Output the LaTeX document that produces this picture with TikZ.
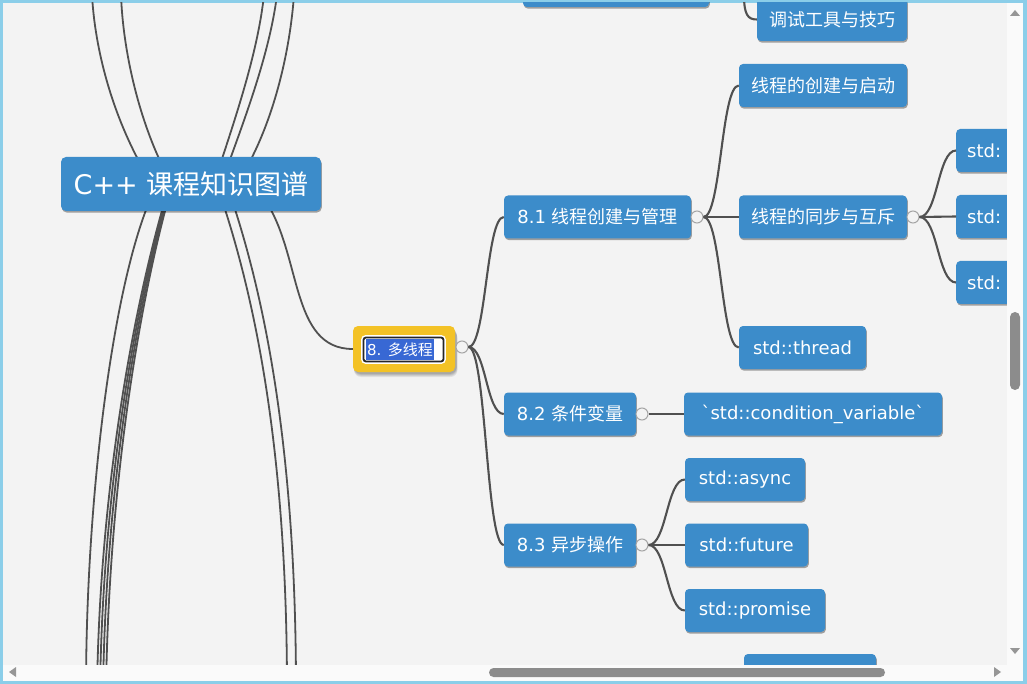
\documentclass[tikz,border=0pt]{standalone}
\usepackage{fontspec}
\setmainfont{DejaVu Sans}
\newfontfamily\cjk{Noto Sans CJK SC}
\usetikzlibrary{calc,shadows}
\definecolor{mmblue}{RGB}{60,140,202}
\definecolor{mmbg}{RGB}{243,243,243}
\definecolor{mmline}{RGB}{80,80,80}
\definecolor{mmyellow}{RGB}{243,194,38}
\definecolor{mmsel}{RGB}{56,104,212}
\definecolor{mmborder}{RGB}{139,206,233}
\definecolor{mmstrip}{RGB}{250,250,250}
\definecolor{mmthumb}{RGB}{140,140,140}
\definecolor{mmarrow}{RGB}{150,150,150}
\definecolor{mmcirc}{RGB}{165,165,165}
\newcommand\mmconn[2]{\draw[conn] let \p1=(#1),\p2=(#2) in (#1) .. controls ({0.5*\x1+0.5*\x2},\y1) and ({0.5*\x1+0.5*\x2},\y2) .. (#2);}
\begin{document}
\begin{tikzpicture}[x=1pt,y=-1pt,
  bnode/.style={fill=mmblue, rounded corners=4pt, text=white, font=\fontsize{18}{22}\selectfont, minimum height=43pt, inner sep=0pt, drop shadow={shadow xshift=0.8pt, shadow yshift=-1.6pt, opacity=0.35, fill=black}},
  snode/.style={bnode, text width=62pt, align=left, inner xsep=11pt, anchor=west},
  conn/.style={draw=mmline, line width=2.1pt},
  rootline/.style={draw=mmline, line width=1.8pt},
  circ/.style={circle, minimum size=12pt, inner sep=0pt, draw=mmcirc, line width=1pt, fill=mmbg},
  arrowtri/.style={fill=mmarrow}]
\useasboundingbox (0,0) rectangle (1027,684);
\fill[mmborder] (0,0) rectangle (1027,684);
\begin{scope}
\clip (3,3) rectangle (1007,665);
\fill[mmbg] (3,3) rectangle (1007,665);
% nodes
\node[bnode, minimum width=186pt] (ptop) at (616,-14.5) {};
\node[bnode, minimum width=150pt] (dbg) at (832,19.5) {{\cjk 调试工具与技巧}};
\node[bnode, minimum width=168pt] (qd) at (823,85.5) {{\cjk 线程的创建与启动}};
\node[bnode, minimum width=168pt] (tb) at (823,217) {{\cjk 线程的同步与互斥}};
\node[snode] (s1) at (956,150.5) {std:};
\node[snode] (s2) at (956,216.5) {std:};
\node[snode] (s3) at (956,282.5) {std:};
\node[bnode, minimum width=187pt] (n81) at (597.5,217) {8.1 {\cjk 线程创建与管理}};
\node[bnode, minimum width=127pt] (th) at (802.5,347.5) {std::thread};
\node[bnode, minimum width=132pt] (n82) at (570,414) {8.2 {\cjk 条件变量}};
\node[bnode, minimum width=258pt] (cv) at (813,414) {\textasciigrave std::condition\_variable\textasciigrave};
\node[bnode, minimum width=132pt] (n83) at (570,545) {8.3 {\cjk 异步操作}};
\node[bnode, minimum width=120pt] (as) at (745,479.5) {std::async};
\node[bnode, minimum width=123pt] (fu) at (746.5,545) {std::future};
\node[bnode, minimum width=140pt] (pr) at (755,610.5) {std::promise};
\node[bnode, minimum width=132pt] (pbot) at (810,675.5) {};
% selected node with soft shadow
\foreach \k/\o in {5/0.07,4/0.08,3/0.09,2/0.1}{
  \fill[black, opacity=\o, rounded corners=7pt] (354,{326+\k}) rectangle ({456+0.3*\k},{372+\k});
}
\node[fill=mmyellow, rounded corners=5pt, minimum width=102pt, minimum height=46pt, inner sep=0pt] (n8) at (404,349) {};
\node[draw=white, line width=2.6pt, rounded corners=3pt, minimum width=82pt, minimum height=26pt, inner sep=0pt] (ebo) at (403.5,349.5) {};
\node[draw=black!85, line width=1.8pt, fill=white, rounded corners=2.5pt, minimum width=80pt, minimum height=24pt, inner sep=0pt] (eb) at (403.5,349.5) {};
\node[fill=mmsel, text=white, font=\fontsize{15}{18}\selectfont, inner xsep=1pt, inner ysep=0pt, minimum height=21pt, anchor=west] (t8) at (366,349.5) {8. {\cjk 多线程}};
% collapse circles
\node[circ] (c8) at (462,347) {};
\node[circ] (c81) at (697,217) {};
\node[circ] (ctb) at (913,217) {};
\node[circ] (c82) at (642,414) {};
\node[circ] (c83) at (642,545) {};
% connectors
\mmconn{c8.east}{n81.west}
\mmconn{c8.east}{n82.west}
\mmconn{c8.east}{n83.west}
\mmconn{c81.east}{qd.west}
\mmconn{c81.east}{tb.west}
\mmconn{c81.east}{th.west}
\mmconn{ctb.east}{s1.west}
\mmconn{ctb.east}{s2.west}
\mmconn{ctb.east}{s3.west}
\mmconn{c82.east}{cv.west}
\mmconn{c83.east}{as.west}
\mmconn{c83.east}{fu.west}
\mmconn{c83.east}{pr.west}
\coordinate (dtop) at (744,-5);
\draw[conn] (dtop) .. controls (744,15) and (748,19.5) .. (dbg.west);
% root lines to off-screen branches
\coordinate (ra0) at (141,165); \coordinate (ra1) at (92,-5);
\coordinate (rb0) at (162,165); \coordinate (rb1) at (121,-5);
\coordinate (rc0) at (220,165); \coordinate (rc1) at (264,-5);
\coordinate (rd0) at (228,165); \coordinate (rd1) at (277,-5);
\coordinate (re0) at (248,165); \coordinate (re1) at (294,-5);
\draw[rootline] (ra0) .. controls (112,112) and (95,50) .. (ra1);
\draw[rootline] (rb0) .. controls (138,115) and (123,50) .. (rb1);
\draw[rootline] (rc0) .. controls (238,110) and (258,50) .. (rc1);
\draw[rootline] (rd0) .. controls (248,110) and (270,50) .. (rd1);
\draw[rootline] (re0) .. controls (275,115) and (290,50) .. (re1);
\coordinate (rf0) at (150,200); \coordinate (rf1) at (86,690);
\draw[rootline] (rf0) .. controls (112,290) and (86,500) .. (rf1);
\foreach \i in {0,1,2,3}{
  \coordinate (rg0\i) at ({165+\i},200); \coordinate (rg1\i) at ({97+3*\i},690);
  \draw[rootline] (rg0\i) .. controls ({136+1.5*\i},300) and ({100+3*\i},480) .. (rg1\i);
}
\coordinate (rh0) at (222,200); \coordinate (rh1) at (287,690);
\coordinate (ri0) at (232,200); \coordinate (ri1) at (296,690);
\draw[rootline] (rh0) .. controls (255,300) and (287,450) .. (rh1);
\draw[rootline] (ri0) .. controls (265,300) and (296,450) .. (ri1);
\coordinate (r8) at (265,200);
\draw[rootline] (r8) .. controls (302,255) and (290,349) .. (n8.west);
% root
\node[bnode, minimum width=260pt, minimum height=54pt, rounded corners=5pt, font=\fontsize{27}{32}\selectfont] (root) at (191,184) {C++ {\cjk 课程知识图谱}};
\end{scope}
% scrollbars
\fill[mmstrip] (1007,3) rectangle (1023,681);
\fill[mmstrip] (3,665) rectangle (1023,681);
\fill[mmthumb, rounded corners=5pt] (1010,312) rectangle (1020,390);
\fill[mmthumb, rounded corners=4.5pt] (489,668) rectangle (885,677);
\fill[arrowtri] (1010,16) -- (1020,16) -- (1015,10) -- cycle;
\fill[arrowtri] (1010,648) -- (1020,648) -- (1015,654) -- cycle;
\fill[arrowtri] (16,667) -- (16,677) -- (9,672) -- cycle;
\fill[arrowtri] (994,667) -- (994,677) -- (1001,672) -- cycle;
\end{tikzpicture}
\end{document}
